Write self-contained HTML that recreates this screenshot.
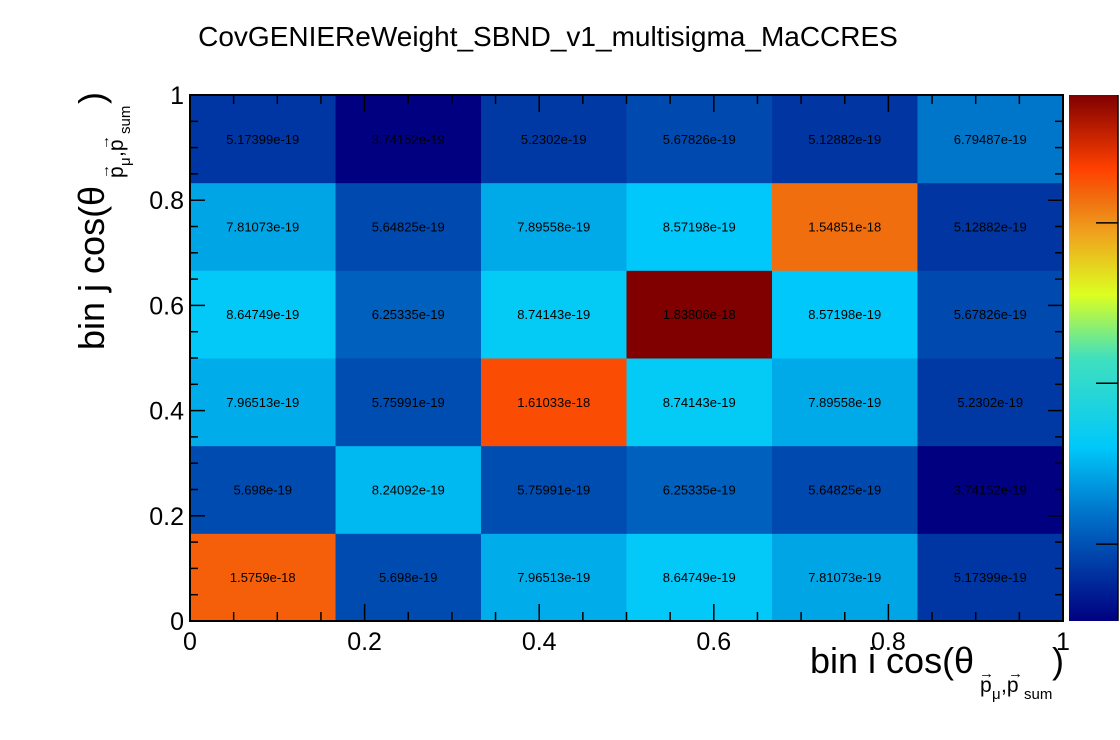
<!DOCTYPE html>
<html><head><meta charset="utf-8"><style>
body{margin:0;background:#fff;}
svg{display:block;font-family:"Liberation Sans",sans-serif;}
</style></head><body>
<svg id="chart" width="1120" height="740" viewBox="0 0 1120 740">
<rect width="1120" height="740" fill="#fff"/>
<text x="548" y="46" font-size="28" text-anchor="middle">CovGENIEReWeight_SBND_v1_multisigma_MaCCRES</text>
<g id="cells"></g>
<g id="axes"></g>
<g id="cbar"></g>
<g>
<text x="810" y="673" font-size="36">bin i cos(θ</text>
<text x="980" y="692" font-size="21">p</text><text x="992" y="699" font-size="15">μ</text><text x="1001" y="692" font-size="21">,p</text><text x="1024" y="699" font-size="15">sum</text>
<text x="979" y="678" font-size="15" font-weight="bold">→</text><text x="1008" y="678" font-size="15" font-weight="bold">→</text>
<text x="1052" y="673" font-size="36">)</text>
</g>
<g transform="translate(104,350) rotate(-90)">
<text x="0" y="0" font-size="36">bin j cos(θ</text>
<text x="172" y="19" font-size="21">p</text><text x="184" y="26" font-size="15">μ</text><text x="193" y="19" font-size="21">,p</text><text x="216" y="26" font-size="15">sum</text>
<text x="171" y="5" font-size="15" font-weight="bold">→</text><text x="200" y="5" font-size="15" font-weight="bold">→</text>
<text x="246" y="0" font-size="36">)</text>
</g>
</svg>
<script>
const xEdges=[0,0.1667,0.3333,0.5,0.6667,0.8333,1];
const yEdges=[0,0.1667,0.3333,0.5,0.6667,0.8333,1];
// rows from bottom (j=0) to top
const zValues=[
[1.5759e-18,5.698e-19,7.96513e-19,8.64749e-19,7.81073e-19,5.17399e-19],
[5.698e-19,8.24092e-19,5.75991e-19,6.25335e-19,5.64825e-19,3.74152e-19],
[7.96513e-19,5.75991e-19,1.61033e-18,8.74143e-19,7.89558e-19,5.2302e-19],
[8.64749e-19,6.25335e-19,8.74143e-19,1.83806e-18,8.57198e-19,5.67826e-19],
[7.81073e-19,5.64825e-19,7.89558e-19,8.57198e-19,1.54851e-18,5.12882e-19],
[5.17399e-19,3.74152e-19,5.2302e-19,5.67826e-19,5.12882e-19,6.79487e-19]];
const zLabels=[
["1.5759e-18","5.698e-19","7.96513e-19","8.64749e-19","7.81073e-19","5.17399e-19"],
["5.698e-19","8.24092e-19","5.75991e-19","6.25335e-19","5.64825e-19","3.74152e-19"],
["7.96513e-19","5.75991e-19","1.61033e-18","8.74143e-19","7.89558e-19","5.2302e-19"],
["8.64749e-19","6.25335e-19","8.74143e-19","1.83806e-18","8.57198e-19","5.67826e-19"],
["7.81073e-19","5.64825e-19","7.89558e-19","8.57198e-19","1.54851e-18","5.12882e-19"],
["5.17399e-19","3.74152e-19","5.2302e-19","5.67826e-19","5.12882e-19","6.79487e-19"]];
const xTicks=[0,0.2,0.4,0.6,0.8,1];
const xTickLabels=["0","0.2","0.4","0.6","0.8","1"];
const yTicks=[0,0.2,0.4,0.6,0.8,1];
const yTickLabels=["0","0.2","0.4","0.6","0.8","1"];
const zMin=3.74152e-19, zMax=1.83806e-18;
const cbarTicks=[5.88e-19,1.036e-18,1.482e-18];

const NS="http://www.w3.org/2000/svg";
const X0=190,X1=1063,Y0=621,Y1=95;
const sx=v=>X0+(X1-X0)*v;
const sy=v=>Y0-(Y0-Y1)*v;
const stops=[[0,[0,0,128]],[0.09,[0,50,160]],[0.2,[0,112,200]],[0.33,[0,200,250]],[0.5,[64,224,190]],[0.62,[220,255,32]],[0.74,[240,160,30]],[0.8,[240,112,16]],[0.86,[255,64,0]],[1,[128,0,0]]];
function col(v){let t=Math.max(0,Math.min(1,(v-zMin)/(zMax-zMin)));
for(let i=1;i<stops.length;i++){if(t<=stops[i][0]){const a=stops[i-1],b=stops[i],f=(t-a[0])/(b[0]-a[0]);
return 'rgb('+a[1].map((c,k)=>Math.round(c+(b[1][k]-c)*f)).join(',')+')';}}return 'rgb(128,0,0)';}
function mk(tag,attrs,parent){const e=document.createElementNS(NS,tag);for(const k in attrs)e.setAttribute(k,attrs[k]);parent.appendChild(e);return e;}
const cells=document.getElementById('cells');
zValues.forEach((row,j)=>row.forEach((v,i)=>{
 const r=mk('rect',{x:sx(xEdges[i]),y:sy(yEdges[j+1]),width:sx(xEdges[i+1])-sx(xEdges[i])+0.5,height:sy(yEdges[j])-sy(yEdges[j+1])+0.5,fill:col(v)},cells);
 
 
 const t=mk('text',{x:(sx(xEdges[i])+sx(xEdges[i+1]))/2,y:(sy(yEdges[j])+sy(yEdges[j+1]))/2+5,'font-size':13,'text-anchor':'middle',fill:'#000'},cells);
 t.textContent=zLabels[j][i];
 
 
}));
const ax=document.getElementById('axes');
mk('rect',{x:X0,y:Y1,width:X1-X0,height:Y0-Y1,fill:'none',stroke:'#000','stroke-width':2},ax);
for(let k=0;k<=20;k++){const v=k*0.05,maj=k%4===0;const L=maj?17:9,Ly=maj?15:8;
 const x=sx(v),y=sy(v);
 mk('line',{x1:x,y1:Y0,x2:x,y2:Y0-L,stroke:'#000','stroke-width':1.5},ax);
 mk('line',{x1:x,y1:Y1,x2:x,y2:Y1+L,stroke:'#000','stroke-width':1.5},ax);
 mk('line',{x1:X0,y1:y,x2:X0+Ly,y2:y,stroke:'#000','stroke-width':1.5},ax);
 mk('line',{x1:X1,y1:y,x2:X1-Ly,y2:y,stroke:'#000','stroke-width':1.5},ax);}
xTicks.forEach((v,i)=>{const t=mk('text',{x:sx(v),y:650,'font-size':25,'text-anchor':'middle'},ax);t.textContent=xTickLabels[i];
 
 });
yTicks.forEach((v,i)=>{const t=mk('text',{x:184,y:sy(v)+9,'font-size':25,'text-anchor':'end'},ax);t.textContent=yTickLabels[i];
 
 });
const cb=document.getElementById('cbar');
const defs=mk('defs',{},cb);const g=mk('linearGradient',{id:'cg',x1:0,y1:1,x2:0,y2:0},defs);
stops.forEach(s=>mk('stop',{offset:s[0],'stop-color':'rgb('+s[1].join(',')+')'},g));
const cr=mk('rect',{x:1069,y:Y1,width:49,height:Y0-Y1,fill:'url(#cg)'},cb);


mk('line',{x1:1118,y1:Y1,x2:1118,y2:Y0,stroke:'#000','stroke-width':1.5},cb);
cbarTicks.forEach(v=>{const y=Y0-(Y0-Y1)*(v-zMin)/(zMax-zMin);mk('line',{x1:1096,y1:y,x2:1118,y2:y,stroke:'#000','stroke-width':1.5},cb);});
</script>
</body></html>
